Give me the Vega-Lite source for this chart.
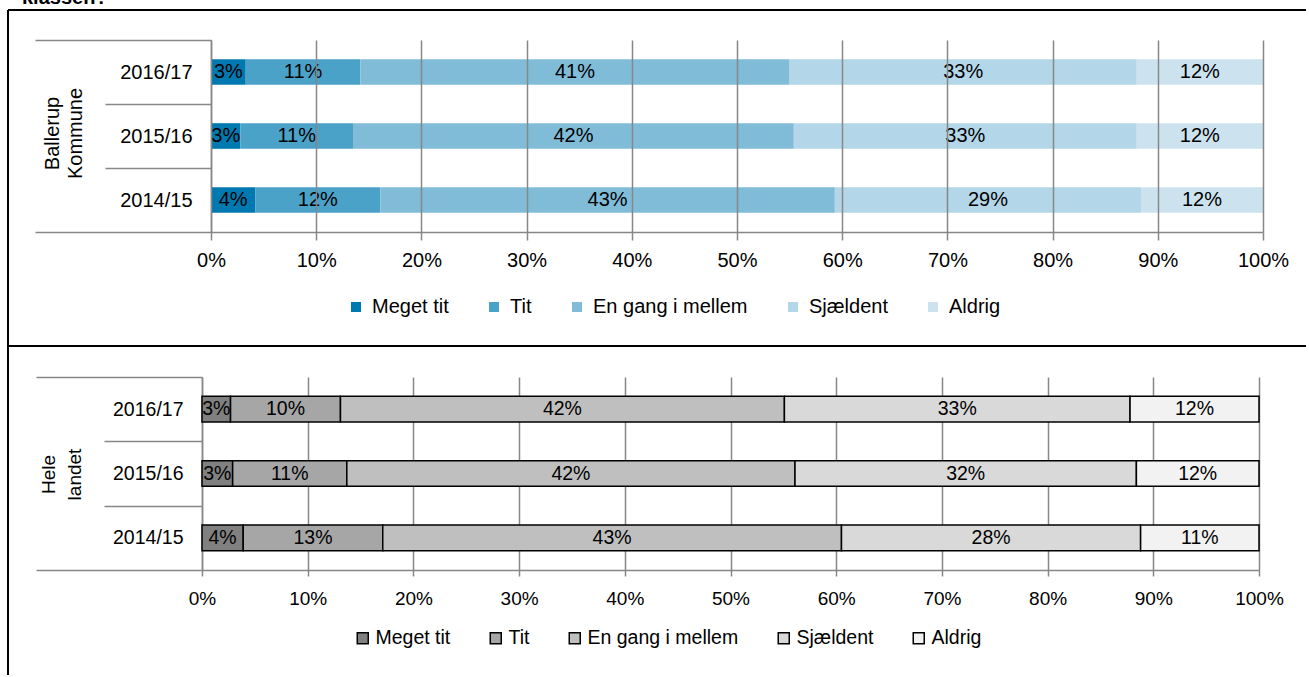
{
  "$schema": "https://vega.github.io/schema/vega-lite/v6.json",
  "padding": {"left": 7, "top": -12, "right": 0, "bottom": 0},
  "background": "white",
  "spacing": 0,
  "bounds": "flush",
  "title": {
    "text": "klassen?", "anchor": "start", "frame": "bounds",
    "font": "Liberation Sans", "fontSize": 20, "fontWeight": "bold", "color": "black",
    "baseline": "alphabetic", "offset": -25, "dx": 15
  },
  "resolve": {"scale": {"color": "independent", "x": "independent", "y": "independent"}},
  "config": {
    "font": "Liberation Sans",
    "text": {"font": "Liberation Sans"}
  },
  "datasets": {
    "ballerup": [
      {"year": "2016/17", "cat": "Meget tit", "order": 1, "value": 0.033},
      {"year": "2016/17", "cat": "Tit", "order": 2, "value": 0.109},
      {"year": "2016/17", "cat": "En gang i mellem", "order": 3, "value": 0.408},
      {"year": "2016/17", "cat": "Sjældent", "order": 4, "value": 0.330},
      {"year": "2016/17", "cat": "Aldrig", "order": 5, "value": 0.120},
      {"year": "2015/16", "cat": "Meget tit", "order": 1, "value": 0.028},
      {"year": "2015/16", "cat": "Tit", "order": 2, "value": 0.107},
      {"year": "2015/16", "cat": "En gang i mellem", "order": 3, "value": 0.419},
      {"year": "2015/16", "cat": "Sjældent", "order": 4, "value": 0.326},
      {"year": "2015/16", "cat": "Aldrig", "order": 5, "value": 0.120},
      {"year": "2014/15", "cat": "Meget tit", "order": 1, "value": 0.042},
      {"year": "2014/15", "cat": "Tit", "order": 2, "value": 0.119},
      {"year": "2014/15", "cat": "En gang i mellem", "order": 3, "value": 0.432},
      {"year": "2014/15", "cat": "Sjældent", "order": 4, "value": 0.291},
      {"year": "2014/15", "cat": "Aldrig", "order": 5, "value": 0.116}
    ],
    "hele": [
      {"year": "2016/17", "cat": "Meget tit", "order": 1, "value": 0.027},
      {"year": "2016/17", "cat": "Tit", "order": 2, "value": 0.104},
      {"year": "2016/17", "cat": "En gang i mellem", "order": 3, "value": 0.420},
      {"year": "2016/17", "cat": "Sjældent", "order": 4, "value": 0.327},
      {"year": "2016/17", "cat": "Aldrig", "order": 5, "value": 0.122},
      {"year": "2015/16", "cat": "Meget tit", "order": 1, "value": 0.029},
      {"year": "2015/16", "cat": "Tit", "order": 2, "value": 0.108},
      {"year": "2015/16", "cat": "En gang i mellem", "order": 3, "value": 0.424},
      {"year": "2015/16", "cat": "Sjældent", "order": 4, "value": 0.323},
      {"year": "2015/16", "cat": "Aldrig", "order": 5, "value": 0.116},
      {"year": "2014/15", "cat": "Meget tit", "order": 1, "value": 0.039},
      {"year": "2014/15", "cat": "Tit", "order": 2, "value": 0.132},
      {"year": "2014/15", "cat": "En gang i mellem", "order": 3, "value": 0.434},
      {"year": "2014/15", "cat": "Sjældent", "order": 4, "value": 0.283},
      {"year": "2014/15", "cat": "Aldrig", "order": 5, "value": 0.112}
    ]
  },
  "vconcat": [
    {
      "width": 1298,
      "height": 336,
      "view": {"stroke": "black", "strokeWidth": 2, "strokeDash": [1298, 1634, 336, 0]},
      "data": {"name": "ballerup"},
      "transform": [
        {"stack": "value", "groupby": ["year"], "sort": [{"field": "order", "order": "ascending"}], "as": ["v0", "v1"]},
        {"calculate": "(datum.v0 + datum.v1) / 2", "as": "mid"}
      ],
      "resolve": {"axis": {"x": "independent"}},
      "encoding": {
        "y": {
          "field": "year", "type": "nominal",
          "sort": ["2016/17", "2015/16", "2014/15"],
          "scale": {"range": [30, 222], "paddingInner": 0, "paddingOuter": 0},
          "axis": {
            "orient": "left", "offset": -203,
            "title": ["Ballerup", "Kommune"],
            "titleAngle": -90, "titleX": -159, "titleY": 123,
            "titleAlign": "center", "titleBaseline": "middle",
            "titleFont": "Liberation Sans", "titleFontSize": 20, "titleFontWeight": "normal",
            "titleColor": "black", "titleLineHeight": 23,
            "domainColor": "#878787", "domainWidth": 1.5,
            "tickBand": "extent", "tickColor": "#878787", "tickWidth": 1.5,
            "tickSize": {"condition": {"test": "datum.extra || datum.value === '2014/15'", "value": 176}, "value": 106},
            "labelPadding": {"condition": {"test": "datum.value === '2014/15'", "value": -157}, "value": -87},
            "labelFont": "Liberation Sans", "labelFontSize": 20, "labelColor": "black",
            "grid": false
          }
        }
      },
      "layer": [
        {
          "mark": {"type": "bar", "height": {"band": 0.4}},
          "encoding": {
            "x": {
              "field": "v0", "type": "quantitative",
              "scale": {"domain": [0, 1], "range": [203, 1255], "nice": false, "zero": false},
              "axis": {
                "orient": "bottom", "offset": -114, "title": null, "format": ".0%",
                "values": [0, 0.1, 0.2, 0.3, 0.4, 0.5, 0.6, 0.7, 0.8, 0.9, 1],
                "grid": false,
                "domainColor": "#878787", "domainWidth": 1.5,
                "tickColor": "#878787", "tickWidth": 1.5, "tickSize": 8,
                "labelFont": "Liberation Sans", "labelFontSize": 20, "labelColor": "black",
                "labelBaseline": "middle", "labelPadding": 20,
                "labelFlush": false, "labelOverlap": false, "zindex": 1
              }
            },
            "x2": {"field": "v1"},
            "color": {
              "field": "cat", "type": "nominal",
              "scale": {
                "domain": ["Meget tit", "Tit", "En gang i mellem", "Sjældent", "Aldrig"],
                "range": ["#0079b0", "#4ba2c8", "#80bcd8", "#b3d7e8", "#cce3ef"]
              },
              "legend": {
                "orient": "none", "legendX": 338, "legendY": 287, "direction": "horizontal",
                "title": null, "padding": 0,
                "symbolType": "square", "symbolSize": 100, "symbolStrokeWidth": 0,
                "labelFont": "Liberation Sans", "labelFontSize": 20, "labelColor": "black",
                "labelOffset": 6, "columnPadding": 35
              }
            }
          }
        },
        {
          "mark": {"type": "text", "fontSize": 20, "color": "black", "align": "center", "baseline": "middle"},
          "encoding": {
            "x": {
              "field": "mid", "type": "quantitative",
              "axis": {
                "orient": "top", "offset": -30, "title": null,
                "values": [0, 0.1, 0.2, 0.3, 0.4, 0.5, 0.6, 0.7, 0.8, 0.9, 1],
                "domain": false, "labels": false, "grid": false,
                "tickColor": "#878787", "tickWidth": 1.5, "tickSize": -192, "zindex": 1
              }
            },
            "text": {"field": "value", "type": "quantitative", "format": ".0%"}
          }
        }
      ]
    },
    {
      "width": 1298,
      "height": 329,
      "view": {"stroke": "black", "strokeWidth": 2, "strokeDash": [1298, 1627, 329, 0]},
      "data": {"name": "hele"},
      "transform": [
        {"stack": "value", "groupby": ["year"], "sort": [{"field": "order", "order": "ascending"}], "as": ["v0", "v1"]},
        {"calculate": "(datum.v0 + datum.v1) / 2", "as": "mid"}
      ],
      "resolve": {"axis": {"x": "independent"}},
      "encoding": {
        "y": {
          "field": "year", "type": "nominal",
          "sort": ["2016/17", "2015/16", "2014/15"],
          "scale": {"range": [31, 224], "paddingInner": 0, "paddingOuter": 0},
          "axis": {
            "orient": "left", "offset": -194,
            "title": ["Hele", "landet"],
            "titleAngle": -90, "titleX": -154, "titleY": 128,
            "titleAlign": "center", "titleBaseline": "middle",
            "titleFont": "Liberation Sans", "titleFontSize": 19, "titleFontWeight": "normal",
            "titleColor": "black", "titleLineHeight": 26,
            "domainColor": "#878787", "domainWidth": 1.5,
            "tickBand": "extent", "tickColor": "#878787", "tickWidth": 1.5,
            "tickSize": {"condition": {"test": "datum.extra || datum.value === '2014/15'", "value": 166}, "value": 98},
            "labelPadding": {"condition": {"test": "datum.value === '2014/15'", "value": -147}, "value": -79},
            "labelFont": "Liberation Sans", "labelFontSize": 19.5, "labelColor": "black",
            "grid": false
          }
        }
      },
      "layer": [
        {
          "mark": {"type": "bar", "height": {"band": 0.4}, "stroke": "black", "strokeWidth": 1.5},
          "encoding": {
            "x": {
              "field": "v0", "type": "quantitative",
              "scale": {"domain": [0, 1], "range": [194, 1251], "nice": false, "zero": false},
              "axis": {
                "orient": "bottom", "offset": -105, "title": null, "format": ".0%",
                "values": [0, 0.1, 0.2, 0.3, 0.4, 0.5, 0.6, 0.7, 0.8, 0.9, 1],
                "grid": false,
                "domainColor": "#878787", "domainWidth": 1.5,
                "tickColor": "#878787", "tickWidth": 1.5, "tickSize": 6,
                "labelFont": "Liberation Sans", "labelFontSize": 19, "labelColor": "black",
                "labelBaseline": "middle", "labelPadding": 22,
                "labelFlush": false, "labelOverlap": false
              }
            },
            "x2": {"field": "v1"},
            "color": {
              "field": "cat", "type": "nominal",
              "scale": {
                "domain": ["Meget tit", "Tit", "En gang i mellem", "Sjældent", "Aldrig"],
                "range": ["#808080", "#a6a6a6", "#bfbfbf", "#d9d9d9", "#f2f2f2"]
              },
              "legend": {
                "orient": "none", "legendX": 345, "legendY": 282, "direction": "horizontal",
                "title": null, "padding": 0,
                "symbolType": "square", "symbolSize": 121, "symbolStrokeColor": "black", "symbolStrokeWidth": 1.5,
                "labelFont": "Liberation Sans", "labelFontSize": 19.5, "labelColor": "black",
                "labelOffset": 3, "columnPadding": 35
              }
            }
          }
        },
        {
          "mark": {"type": "text", "fontSize": 19.5, "color": "black", "align": "center", "baseline": "middle"},
          "encoding": {
            "x": {
              "field": "mid", "type": "quantitative",
              "axis": {
                "orient": "top", "offset": -31, "title": null,
                "values": [0, 0.1, 0.2, 0.3, 0.4, 0.5, 0.6, 0.7, 0.8, 0.9, 1],
                "domain": false, "labels": false, "grid": false,
                "tickColor": "#878787", "tickWidth": 1.5, "tickSize": -193
              }
            },
            "text": {"field": "value", "type": "quantitative", "format": ".0%"}
          }
        }
      ]
    }
  ]
}
